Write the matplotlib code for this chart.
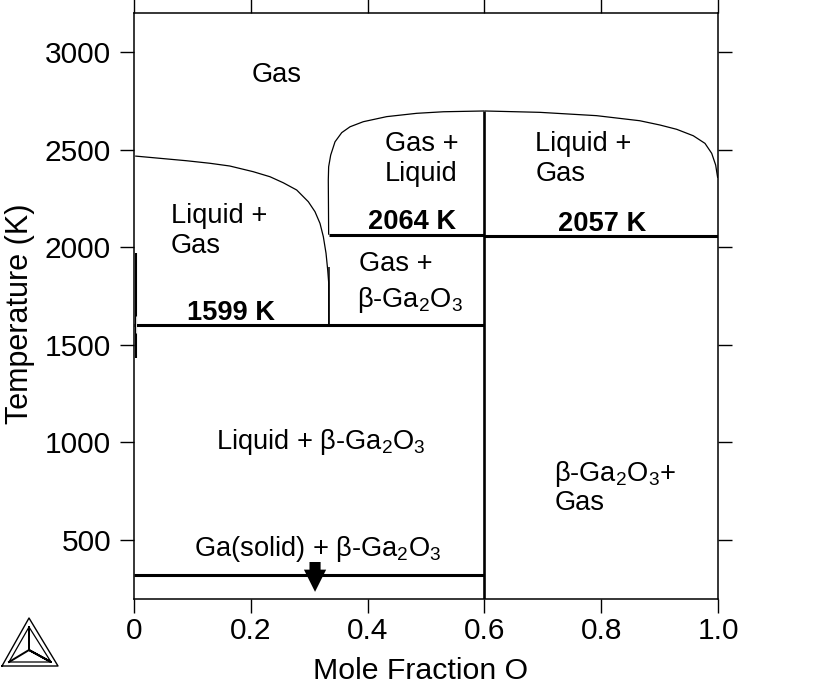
"""Ga-O phase diagram, mole fraction O against temperature."""

import matplotlib
matplotlib.use("Agg")
import matplotlib.pyplot as plt

plt.rcParams["font.family"] = ["Liberation Sans", "DejaVu Sans"]
plt.rcParams["mathtext.fontset"] = "custom"
plt.rcParams["mathtext.rm"] = "Liberation Sans"
plt.rcParams["mathtext.default"] = "regular"

# liquidus / gas boundaries
left_x = [0.002, 0.09, 0.13, 0.164, 0.204, 0.2329, 0.2557, 0.2786, 0.2985, 0.3099,
          0.3185, 0.3242, 0.3288, 0.3317, 0.3334, 0.3335]
left_t = [2467, 2443, 2430, 2416, 2387, 2361, 2330, 2293, 2233, 2182,
          2122, 2054, 1969, 1883, 1817, 1599]
mid_x = [0.3333, 0.3327, 0.3333, 0.3368, 0.3442, 0.3557, 0.3699, 0.3926, 0.4327, 0.4841, 0.53, 0.6]
mid_t = [2064, 2344, 2412, 2472, 2540, 2587, 2617, 2643, 2669, 2686, 2694, 2698]
right_x = [0.6, 0.695, 0.792, 0.866, 0.9007, 0.9293, 0.9577, 0.9777, 0.9892, 0.996, 0.9995]
right_t = [2698, 2691, 2674, 2648, 2626, 2604, 2571, 2532, 2481, 2421, 2355]

# invariant lines: x start, x end, temperature
h_x0 = [0.0, 0.3335, 0.6, 0.0]
h_x1 = [0.6, 0.6, 1.0, 0.6]
h_t = [1599, 2064, 2057, 318]

# labels: x, temperature, text
label_x = [0.202, 0.43, 0.43, 0.687, 0.687, 0.063, 0.063, 0.385, 0.382, 0.14, 0.719, 0.721, 0.102]
label_t = [2846, 2493, 2339, 2493, 2339, 2124, 1970, 1878, 1694, 966, 802, 654, 418]
label_s = [
    "Gas", "Gas +", "Liquid", "Liquid +", "Gas", "Liquid +", "Gas", "Gas +",
    "β-Ga$_2$O$_3$", "Liquid + β-Ga$_2$O$_3$", "β-Ga$_2$O$_3$+", "Gas",
    "Ga(solid) + β-Ga$_2$O$_3$",
]
bold_x = [0.40, 0.726, 0.091]
bold_t = [2093, 2083, 1627]
bold_s = ["2064 K", "2057 K", "1599 K"]

x_ticks = [0, 0.2, 0.4, 0.6, 0.8, 1.0]
x_tick_labels = ["0", "0.2", "0.4", "0.6", "0.8", "1.0"]
y_ticks = [500, 1000, 1500, 2000, 2500, 3000]

# logo strokes, in pixels of the picture
logo_outer_x = [2, 29, 58, 2]
logo_outer_y = [666, 618, 666, 666]
logo_inner_x = [9, 29, 51, 9]
logo_inner_y = [662, 627, 662, 662]
logo_core_x = [9, 29, 51, 29, 29, 29]
logo_core_y = [662, 650, 662, 650, 627, 650]

W, H = 819, 685
fig = plt.figure(figsize=(W / 100, H / 100), dpi=100)
ax = fig.add_axes([134 / W, 1 - 598.5 / H, 584 / W, 585.5 / H])

for x, t in [(left_x, left_t), (mid_x, mid_t), (right_x, right_t)]:
    ax.plot(x, t, color="black", linewidth=0.9, solid_capstyle="butt")

ax.hlines(h_t, h_x0, h_x1, color="black", linewidth=2.2)
ax.vlines(0.6, 200, 2698, color="black", linewidth=1.9)
ax.vlines(1 / 3, 1599, 1900, color="black", linewidth=1.1)
ax.vlines(0.003, 1432, 1970, color="black", linewidth=1.5)
ax.vlines(0.0026, 1560, 1650, color="white", linewidth=0.6)

for x, t, s in zip(label_x, label_t, label_s):
    ax.text(x, t, s, fontsize=19.6, va="baseline", ha="left")
for x, t, s in zip(bold_x, bold_t, bold_s):
    ax.text(x, t, s, fontsize=19.6, fontweight="bold", va="baseline", ha="left")

ax.annotate(
    "", xy=(0.31, 234), xytext=(0.31, 387),
    arrowprops=dict(
        arrowstyle="simple,head_length=0.8,head_width=0.8,tail_width=0.4",
        color="black", shrinkA=0, shrinkB=0, mutation_scale=20, linewidth=0,
    ),
)

ax.set_xlim(0, 1)
ax.set_ylim(200, 3200)
ax.set_xticks(x_ticks, x_tick_labels)
ax.set_yticks(y_ticks)
ax.tick_params(
    which="major", direction="out", length=10, width=1.0, labelsize=21.5,
    top=True, right=True,
)
ax.tick_params(axis="y", pad=6.5)
ax.tick_params(axis="x", pad=3)
for s in ax.spines.values():
    s.set_linewidth(1.1)
ax.set_xlabel("Mole Fraction O", fontsize=21.8)
ax.set_ylabel("Temperature (K)", fontsize=22)
ax.xaxis.set_label_coords(0.491, -0.1)
ax.yaxis.set_label_coords(-0.1696, 0.486)

logo = fig.add_axes([0, 1 - 670 / H, 62 / W, 55 / H])
logo.set_xlim(0, 62)
logo.set_ylim(670, 615)
logo.axis("off")
logo.plot(logo_outer_x, logo_outer_y, color="black", linewidth=1.0)
logo.plot(logo_inner_x, logo_inner_y, color="black", linewidth=0.9)
logo.plot(logo_core_x, logo_core_y, color="black", linewidth=1.4)

fig.savefig("out.png", dpi=100)
plt.close(fig)
